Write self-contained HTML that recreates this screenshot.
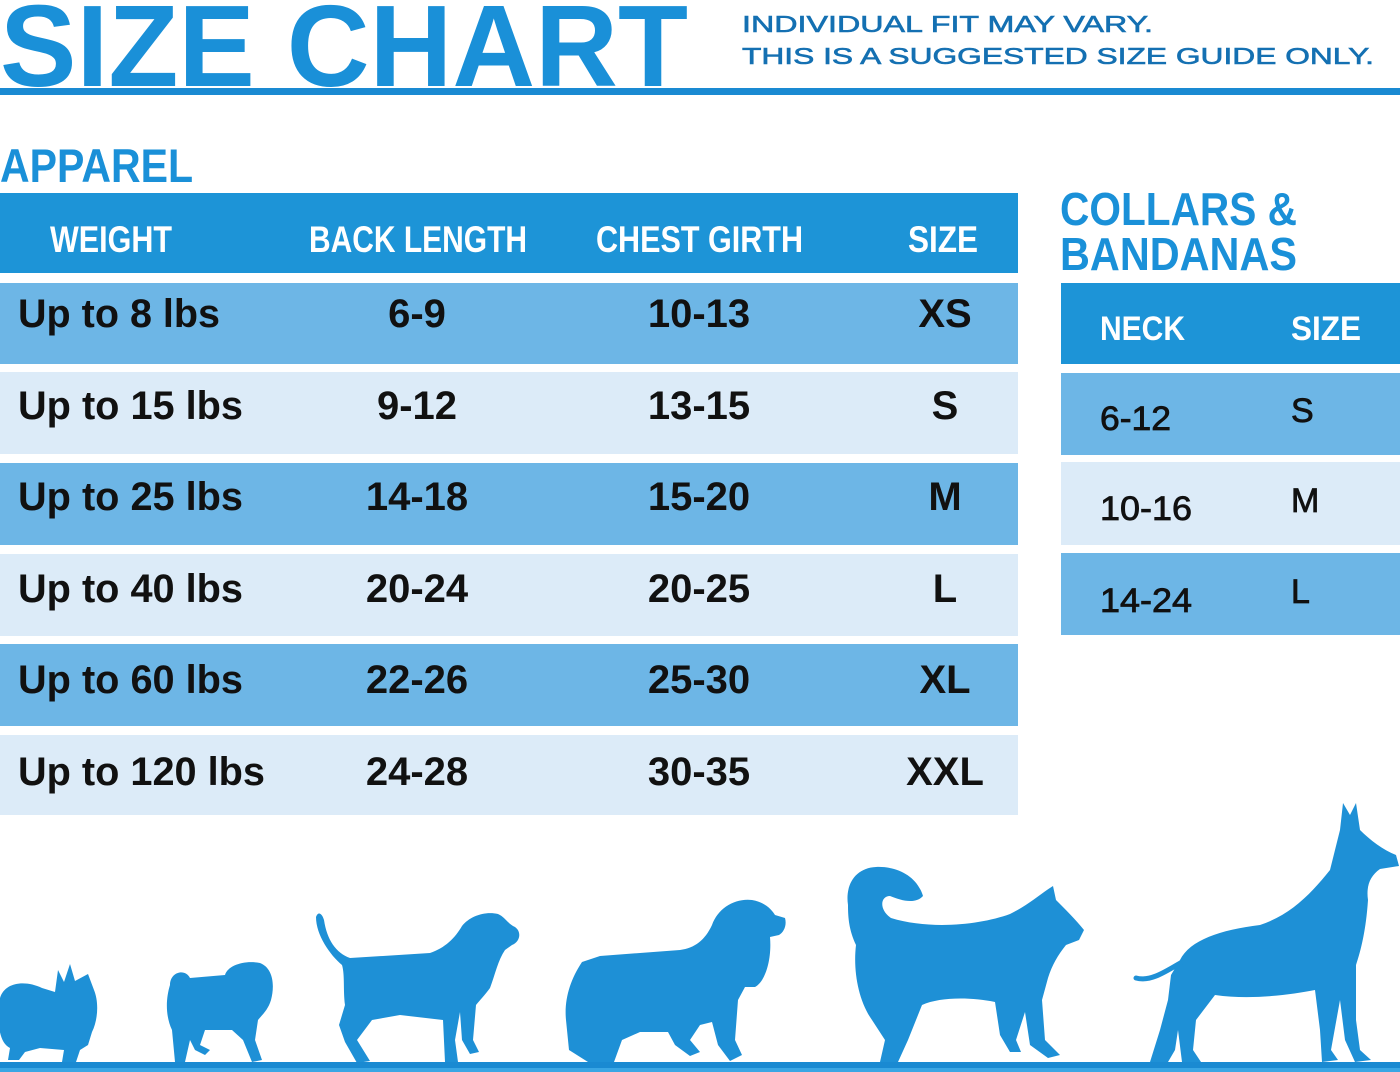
<!DOCTYPE html>
<html>
<head>
<meta charset="utf-8">
<style>
html,body{margin:0;padding:0;background:#fff;}
svg{display:block;}
text{font-family:"Liberation Sans",Arial,sans-serif;}
</style>
</head>
<body>
<svg width="1400" height="1072" viewBox="0 0 1400 1072" xmlns="http://www.w3.org/2000/svg">
<rect x="0" y="0" width="1400" height="1072" fill="#ffffff"/>

<!-- Title -->
<text x="0" y="86" font-size="116" font-weight="bold" fill="#1a90d8" stroke="#ffffff" stroke-width="1.5" paint-order="stroke" textLength="688" lengthAdjust="spacingAndGlyphs">SIZE CHART</text>
<rect x="0" y="88" width="1400" height="7" fill="#1a8ad2"/>

<g fill="#1470b2" stroke="#1470b2" stroke-width="0.6">
<text x="742" y="32" font-size="23" textLength="411" lengthAdjust="spacingAndGlyphs">INDIVIDUAL FIT MAY VARY.</text>
<text x="742" y="64" font-size="23" textLength="632" lengthAdjust="spacingAndGlyphs">THIS IS A SUGGESTED SIZE GUIDE ONLY.</text>
</g>

<!-- Apparel -->
<text x="0" y="182" font-size="47" font-weight="bold" fill="#1a90d8" textLength="193" lengthAdjust="spacingAndGlyphs">APPAREL</text>

<rect x="0" y="193" width="1018" height="80" fill="#1d94d7"/>
<g fill="#ffffff" font-weight="bold" font-size="37">
<text x="50" y="252" textLength="122" lengthAdjust="spacingAndGlyphs">WEIGHT</text>
<text x="309" y="252" textLength="218" lengthAdjust="spacingAndGlyphs">BACK LENGTH</text>
<text x="596" y="252" textLength="207" lengthAdjust="spacingAndGlyphs">CHEST GIRTH</text>
<text x="908" y="252" textLength="70" lengthAdjust="spacingAndGlyphs">SIZE</text>
</g>

<rect x="0" y="283" width="1018" height="81" fill="#6db6e6"/>
<rect x="0" y="372" width="1018" height="82" fill="#dcebf8"/>
<rect x="0" y="463" width="1018" height="82" fill="#6db6e6"/>
<rect x="0" y="554" width="1018" height="82" fill="#dcebf8"/>
<rect x="0" y="644" width="1018" height="82" fill="#6db6e6"/>
<rect x="0" y="735" width="1018" height="80" fill="#dcebf8"/>

<g fill="#111" font-weight="bold" font-size="40">
<text x="18" y="327" textLength="202" lengthAdjust="spacingAndGlyphs">Up to 8 lbs</text>
<text x="417" y="327" text-anchor="middle">6-9</text>
<text x="699" y="327" text-anchor="middle">10-13</text>
<text x="945" y="327" text-anchor="middle">XS</text>

<text x="18" y="419" textLength="225" lengthAdjust="spacingAndGlyphs">Up to 15 lbs</text>
<text x="417" y="419" text-anchor="middle">9-12</text>
<text x="699" y="419" text-anchor="middle">13-15</text>
<text x="945" y="419" text-anchor="middle">S</text>

<text x="18" y="510" textLength="225" lengthAdjust="spacingAndGlyphs">Up to 25 lbs</text>
<text x="417" y="510" text-anchor="middle">14-18</text>
<text x="699" y="510" text-anchor="middle">15-20</text>
<text x="945" y="510" text-anchor="middle">M</text>

<text x="18" y="602" textLength="225" lengthAdjust="spacingAndGlyphs">Up to 40 lbs</text>
<text x="417" y="602" text-anchor="middle">20-24</text>
<text x="699" y="602" text-anchor="middle">20-25</text>
<text x="945" y="602" text-anchor="middle">L</text>

<text x="18" y="693" textLength="225" lengthAdjust="spacingAndGlyphs">Up to 60 lbs</text>
<text x="417" y="693" text-anchor="middle">22-26</text>
<text x="699" y="693" text-anchor="middle">25-30</text>
<text x="945" y="693" text-anchor="middle">XL</text>

<text x="18" y="785" textLength="247" lengthAdjust="spacingAndGlyphs">Up to 120 lbs</text>
<text x="417" y="785" text-anchor="middle">24-28</text>
<text x="699" y="785" text-anchor="middle">30-35</text>
<text x="945" y="785" text-anchor="middle">XXL</text>
</g>

<!-- Collars -->
<text x="1060" y="225" font-size="46" font-weight="bold" fill="#1a90d8" textLength="237" lengthAdjust="spacingAndGlyphs">COLLARS &amp;</text>
<text x="1060" y="270" font-size="46" font-weight="bold" fill="#1a90d8" textLength="237" lengthAdjust="spacingAndGlyphs">BANDANAS</text>

<rect x="1061" y="283" width="339" height="81" fill="#1d94d7"/>
<g fill="#ffffff" font-weight="bold" font-size="34">
<text x="1100" y="340" textLength="85" lengthAdjust="spacingAndGlyphs">NECK</text>
<text x="1291" y="340" textLength="70" lengthAdjust="spacingAndGlyphs">SIZE</text>
</g>
<rect x="1061" y="373" width="339" height="82" fill="#6db6e6"/>
<rect x="1061" y="462" width="339" height="83" fill="#dcebf8"/>
<rect x="1061" y="553" width="339" height="82" fill="#6db6e6"/>
<g fill="#111" font-size="34" stroke="#111" stroke-width="0.8">
<text x="1100" y="430" textLength="71" lengthAdjust="spacingAndGlyphs">6-12</text>
<text x="1291" y="422">S</text>
<text x="1100" y="520" textLength="92" lengthAdjust="spacingAndGlyphs">10-16</text>
<text x="1291" y="512">M</text>
<text x="1100" y="612" textLength="92" lengthAdjust="spacingAndGlyphs">14-24</text>
<text x="1291" y="603">L</text>
</g>

<!-- Dogs -->
<g fill="#1e90d6">
<!-- dog 1 papillon -->
<path d="M0,998 C5,982 25,980 42,988 L55,992 L58,970 L64,982 L70,964 L75,981 L88,974 L94,990 C99,1002 98,1020 92,1032 L88,1045 L80,1050 L76,1062 L62,1062 L64,1050 L40,1048 L25,1052 L19,1060 L8,1060 L10,1048 C-2,1042 -3,1020 0,998 Z"/>
<!-- dog 2 pug -->
<path d="M170,985 C170,972 185,968 190,978 L225,975 C228,965 245,960 260,963 C273,968 275,985 271,1000 C268,1010 262,1015 258,1020 L255,1040 L262,1060 L252,1062 L243,1040 L232,1030 L205,1030 L200,1045 L210,1050 L205,1055 L195,1050 L190,1040 L185,1062 L175,1062 L172,1030 C165,1015 166,998 170,985 Z"/>
<!-- dog 3 beagle -->
<path d="M316,917 C318,911 322,913 324,920 C327,940 336,953 350,958 L430,953 C445,948 455,938 462,926 C470,916 485,911 498,914 C505,917 508,924 515,927 C522,932 520,942 512,945 L505,950 C498,960 495,975 490,988 C485,995 480,1000 476,1005 L473,1040 L479,1052 L470,1054 L462,1040 L460,1012 L455,1040 L458,1062 L445,1062 L443,1020 L400,1015 L372,1020 L357,1040 L370,1061 L357,1063 L345,1042 L339,1025 L345,1005 C343,990 345,975 342,965 C330,955 316,935 316,917 Z"/>
<!-- dog 4 spaniel -->
<path d="M582,962 L600,956 L680,950 C695,948 705,940 712,925 C718,908 735,898 752,900 C765,902 772,910 775,915 L785,918 C787,925 784,932 779,935 L770,937 C772,960 765,982 755,987 L745,987 L738,1000 L735,1040 L742,1055 L730,1061 L718,1045 L712,1022 L700,1025 L690,1040 L700,1052 L690,1056 L675,1045 L668,1032 L640,1032 L622,1040 L614,1062 L588,1062 L569,1050 L566,1020 C564,1000 570,980 582,962 Z"/>
<!-- dog 5 husky -->
<path d="M848,905 C845,885 855,868 876,867 C897,866 917,876 923,896 C915,905 900,900 890,896 C880,896 879,910 891,918 C930,930 980,925 1010,914 C1030,904 1040,894 1053,886 L1056,900 C1066,910 1076,920 1084,930 L1079,940 L1066,945 C1058,955 1052,965 1048,978 L1042,1000 L1045,1040 L1060,1055 L1048,1058 L1030,1045 L1025,1012 L1016,1040 L1021,1052 L1010,1052 L1000,1035 L995,1002 C970,997 940,997 922,1005 L908,1040 L898,1062 L880,1062 L885,1040 L872,1020 C858,1000 853,970 856,945 C849,930 848,918 848,905 Z"/>
<!-- dog 6 great dane -->
<path d="M1180,960 C1190,940 1220,930 1260,925 C1290,915 1310,895 1330,870 L1340,830 L1343,803 L1350,815 L1356,803 L1360,830 C1370,840 1383,850 1396,855 L1399,866 L1380,869 C1370,876 1366,886 1368,900 C1366,930 1361,950 1356,965 L1356,1020 L1360,1050 L1371,1060 L1355,1062 L1345,1040 L1340,1000 L1331,1050 L1338,1060 L1322,1062 L1320,1030 L1315,990 C1290,995 1250,1000 1215,995 L1196,1020 L1193,1050 L1201,1062 L1182,1062 L1178,1030 L1175,1050 L1168,1062 L1150,1062 L1160,1030 L1168,1000 L1171,975 Z"/>
</g>
<path d="M1182,962 C1165,972 1150,982 1136,978" stroke="#1e90d6" stroke-width="5" fill="none" stroke-linecap="round"/>

<!-- bottom line -->
<rect x="0" y="1062" width="1400" height="6" fill="#1a8ad2"/>
<rect x="0" y="1068" width="1400" height="4" fill="#3aa6e4"/>
</svg>
</body>
</html>
